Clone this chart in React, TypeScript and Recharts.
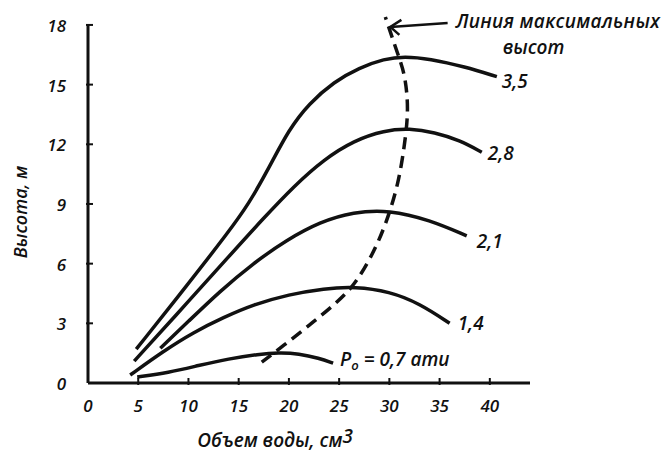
import { LineChart, Line, XAxis, YAxis, ReferenceLine, ReferenceDot } from "recharts";

const X_TICKS = [0, 5, 10, 15, 20, 25, 30, 35, 40];
const Y_TICKS = [0, 3, 6, 9, 12, 15, 18];

// heights (m) vs water volume (cm3) for each initial pressure
const P35 = [[4.8, 1.7], [10, 5.0], [14, 7.6], [16, 9.0], [18, 10.8], [20, 12.75], [22, 14.05], [24.5, 15.15], [27, 15.85], [29.5, 16.3], [31.5, 16.42], [34, 16.3], [37.5, 15.9], [40.7, 15.4]];
const P28 = [[4.6, 1.1], [10, 4.1], [14, 6.35], [17.5, 8.3], [20.5, 9.9], [23.5, 11.25], [26.5, 12.2], [29.5, 12.7], [32, 12.8], [34.5, 12.6], [37, 12.2], [39.2, 11.6]];
const P21 = [[7.2, 1.75], [10, 3.1], [13.1, 4.6], [16.4, 6.0], [19.8, 7.2], [23.1, 8.1], [26.4, 8.6], [30, 8.7], [34, 8.2], [37.7, 7.4]];
const P14 = [[4.2, 0.4], [7.5, 1.6], [10.5, 2.55], [13.5, 3.3], [16.5, 3.95], [20, 4.45], [23.5, 4.75], [26.6, 4.85], [30, 4.6], [33, 4.0], [36, 3.0]];
const P07 = [[4.9, 0.3], [8, 0.52], [11, 0.88], [14, 1.22], [17, 1.45], [19, 1.53], [21, 1.48], [23, 1.25], [24.4, 1.0]];
const MAX_LINE = [[17.3, 1.05], [19.5, 1.9], [22, 2.9], [24.5, 3.95], [26.5, 5.0], [28.2, 6.4], [29.6, 8.0], [30.8, 10.0], [31.5, 12.0], [31.8, 13.8], [31.5, 15.4], [30.8, 16.6], [29.6, 18.4]];

const CURVES = [P35, P28, P21, P14, P07];
const CURVE_LABELS = ["3,5", "2,8", "2,1", "1,4", "0,7"];
const LABEL_OFFSET = [[5, 11], [6, 8], [10, 12], [8, 7], [7, 3]];

const INK = "#111";
const FONT = { fontFamily: "'Open Sans', sans-serif", fontStyle: "italic", fontWeight: 600, fill: INK } as const;

const toRows = (pts: number[][]) => pts.map(([x, y]) => ({ x, y }));

function XTick({ x, y, payload }: any) {
  return (
    <g>
      {payload.value !== 0 && <line x1={x} x2={x} y1={y} y2={y - 7} stroke={INK} strokeWidth={2} />}
      <text x={x} y={y + 27} textAnchor="middle" fontSize={17} {...FONT}>{payload.value}</text>
    </g>
  );
}

function YTick({ x, y, payload }: any) {
  return (
    <g>
      {payload.value !== 0 && <line x1={x} x2={x + 7} y1={y} y2={y} stroke={INK} strokeWidth={2} />}
      <text x={x - 20} y={y + 7} textAnchor="end" fontSize={17} {...FONT}>{payload.value}</text>
    </g>
  );
}

function curveLabel(i: number) {
  const [dx, dy] = LABEL_OFFSET[i];
  return (p: any) => {
    if (i === 4) {
      return (
        <text x={p.cx + dx} y={p.cy + dy} fontSize={19} {...FONT}>
          <tspan>P</tspan>
          <tspan dy={4} fontSize={13}>o</tspan>
          <tspan dy={-4}> = {CURVE_LABELS[i]} ати</tspan>
        </text>
      );
    }
    return <text x={p.cx + dx} y={p.cy + dy} fontSize={19} {...FONT}>{CURVE_LABELS[i]}</text>;
  };
}

function Arrow({ x1, y1, x2, y2 }: any) {
  return (
    <g>
      <line x1={x1} y1={y1} x2={x2} y2={y2} stroke={INK} strokeWidth={2.5} />
      <polyline points={`${x2 + 11},${y2 - 7} ${x2},${y2} ${x2 + 9},${y2 + 8}`} fill="none" stroke={INK} strokeWidth={2.5} />
      <text x={x1 + 8} y={y1 + 5} fontSize={19} letterSpacing={0.3} {...FONT}>Линия максимальных</text>
      <text x={x1 + 55} y={y1 + 31} fontSize={19} {...FONT}>высот</text>
    </g>
  );
}

export default function App() {
  return (
    <div style={{ position: "absolute", left: 0, top: 0, background: "#fff" }}>
      <LineChart width={665} height={458} margin={{ top: 13, right: 135, left: 28, bottom: 45 }}>
        <XAxis
          type="number"
          dataKey="x"
          domain={[0, 44]}
          ticks={X_TICKS}
          tick={<XTick />}
          tickSize={0}
          tickLine={false}
          axisLine={{ stroke: INK, strokeWidth: 3 }}
          height={30}
          allowDataOverflow
        />
        <YAxis
          type="number"
          dataKey="y"
          domain={[0, 18.6]}
          ticks={Y_TICKS}
          tick={<YTick />}
          tickSize={0}
          tickLine={false}
          axisLine={false}
          width={60}
        />
        <ReferenceLine segment={[{ x: 0, y: 0 }, { x: 0, y: 18 }]} stroke={INK} strokeWidth={3} ifOverflow="visible" />
        {CURVES.map((pts, i) => (
          <Line
            key={CURVE_LABELS[i]}
            data={toRows(pts)}
            dataKey="y"
            type="basis"
            stroke={INK}
            strokeWidth={3.5}
            dot={false}
            isAnimationActive={false}
          />
        ))}
        <Line
          data={toRows(MAX_LINE)}
          dataKey="y"
          type="natural"
          stroke={INK}
          strokeWidth={3.5}
          strokeDasharray="12 7"
          dot={false}
          isAnimationActive={false}
        />
        {CURVES.map((pts, i) => (
          <ReferenceDot
            key={"lbl" + i}
            x={pts[pts.length - 1][0]}
            y={pts[pts.length - 1][1]}
            r={0}
            ifOverflow="visible"
            shape={curveLabel(i)}
          />
        ))}
        <ReferenceLine
          segment={[{ x: 35.8, y: 18.1 }, { x: 30.1, y: 17.9 }]}
          ifOverflow="visible"
          shape={(p: any) => <Arrow {...p} />}
        />
        <text x={275} y={447} textAnchor="middle" fontSize={19} {...FONT}>
          Объем воды, см<tspan dy={-4}>3</tspan>
        </text>
        <text x={27} y={212} textAnchor="middle" fontSize={18} transform="rotate(-90, 27, 212)" {...FONT}>
          Высота, м
        </text>
      </LineChart>
    </div>
  );
}
